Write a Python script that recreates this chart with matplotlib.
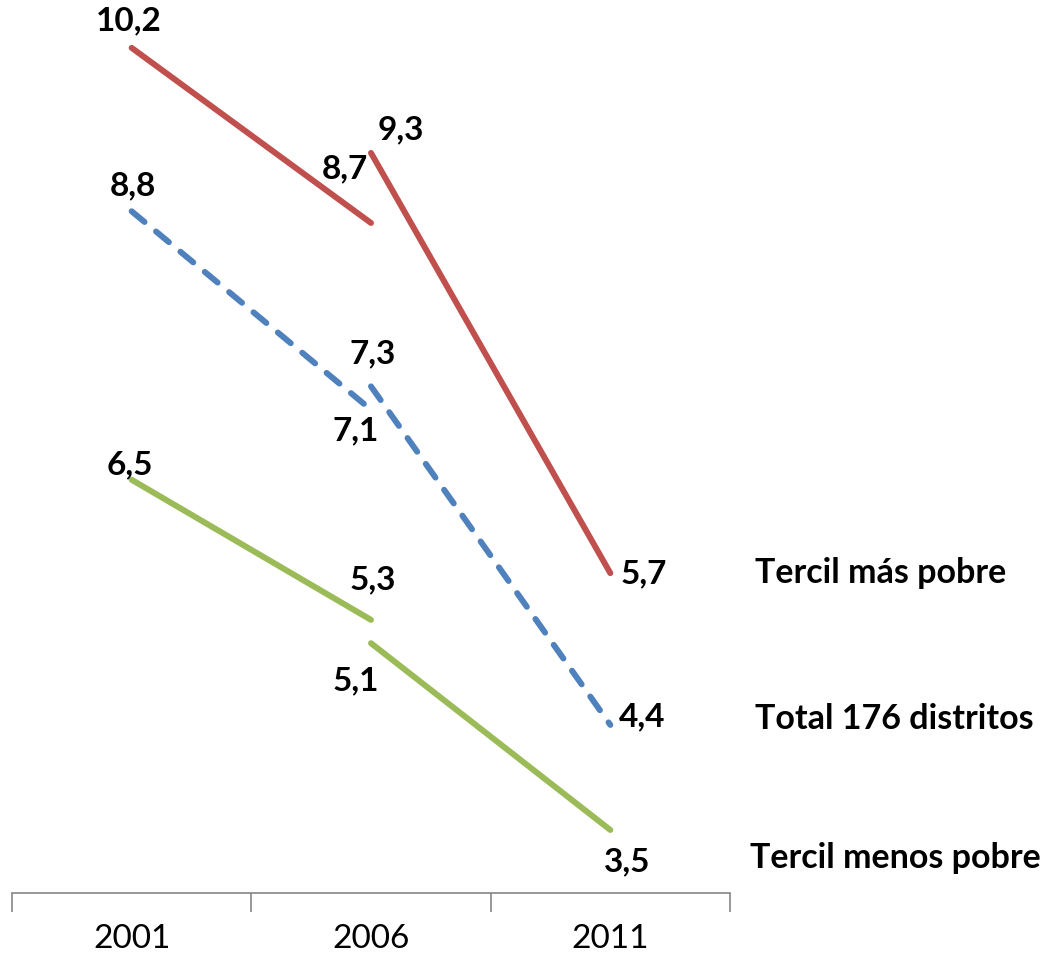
import matplotlib.pyplot as plt

years = ["2001", "2006", "2011"]
series_names = ["Tercil más pobre", "Total 176 distritos", "Tercil menos pobre"]
# each series is drawn as two separate segments: 2001-2006 and 2006-2011
first_segment = [[10.2, 8.7], [8.8, 7.1], [6.5, 5.3]]
second_segment = [[9.3, 5.7], [7.3, 4.4], [5.1, 3.5]]

colors = ["#C0504D", "#4F81BD", "#9BBB59"]
styles = ["solid", "dashed", "solid"]

# label offsets in pixels (dx, dy) for points: seg1 start, seg1 end, seg2 start, seg2 end
label_offsets = [
    [(-3, 27), (-26, 54), (30, 23), (33, -1)],
    [(1, 25), (-15, -21), (2, 33), (32, 8)],
    [(-2, 15), (2, 40), (-15, -38), (17, -32)],
]
name_offsets = [(145, 0), (145, 6), (140, -28)]

plt.rcParams['font.family'] = ['Lato', 'DejaVu Sans']

fig = plt.figure(figsize=(10.48, 9.59), dpi=100)
ax = fig.add_axes([12 / 1048, (959 - 893) / 959, 718 / 1048, 893 / 959])

for i in range(3):
    for seg, xs in ((first_segment[i], [0, 1]), (second_segment[i], [1, 2])):
        line, = ax.plot(xs, seg, color=colors[i], lw=4.3, solid_capstyle='round',
                        dash_capstyle='round')
        if styles[i] == "dashed":
            line.set_dashes([2.8, 2.5])
    pts = [(0, first_segment[i][0]), (1, first_segment[i][1]),
           (1, second_segment[i][0]), (2, second_segment[i][1])]
    for (x, y), off in zip(pts, label_offsets[i]):
        ax.annotate(f"{y:.1f}".replace(".", ","), xy=(x, y), xytext=off,
                    textcoords='offset pixels', ha='center', va='center',
                    fontsize=24, fontweight='bold', annotation_clip=False)
    ax.annotate(series_names[i], xy=(2, second_segment[i][1]), xytext=name_offsets[i],
                textcoords='offset pixels', ha='left', va='center',
                fontsize=24.5, fontweight='bold', annotation_clip=False)

ax.set_xlim(-0.5, 2.5)
ax.set_ylim(2.96, 10.61)
ax.set_yticks([])
ax.set_xticks([-0.5, 0.5, 1.5, 2.5])
ax.set_xticklabels([])
ax.set_xticks([0, 1, 2], minor=True)
ax.set_xticklabels(years, minor=True, fontsize=24)
ax.tick_params(axis='x', which='minor', length=0, pad=22)
ax.tick_params(axis='x', which='major', length=14, width=1.2, color='#868686', direction='out')
for side in ['top', 'right', 'left']:
    ax.spines[side].set_visible(False)
ax.spines['bottom'].set_color('#868686')
ax.spines['bottom'].set_linewidth(1.2)

plt.savefig("out.png", dpi=100)
